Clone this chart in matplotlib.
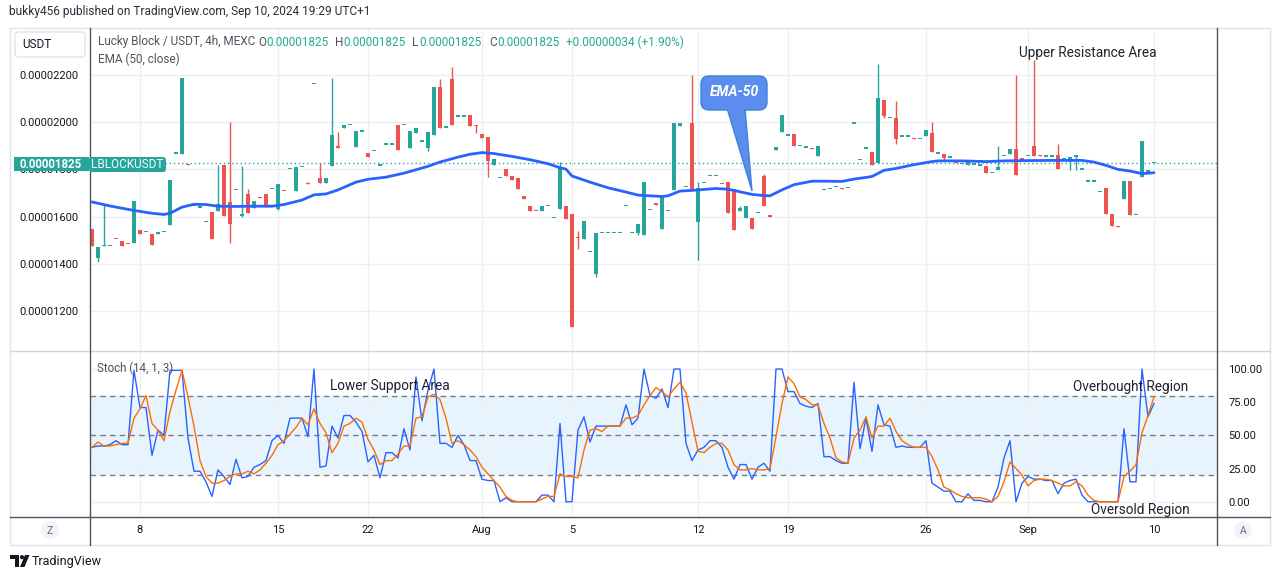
# LBLOCK/USDT 4h chart with EMA-50 and Stoch (14,1,3), TradingView style

import numpy as np
import matplotlib.pyplot as plt
from matplotlib.patches import FancyBboxPatch, Polygon, Circle, Rectangle
from matplotlib.transforms import Affine2D
from matplotlib.lines import Line2D

plt.rcParams['font.family'] = ['Roboto', 'DejaVu Sans']

W, H, DPI = 1281, 579, 100

# 4h candles, prices in units of 1e-8 USDT
opens = [1549, 1423, 1474, 1475, 1506, 1498, 1484, 1487, 1545, 1534,
         1528, 1525, 1535, 1565, 1867, 1865, 1821, 1646, 1638, 1577,
         1621, 1623, 1817, 1660, 1711, 1601, 1694, 1635, 1682, 1694,
         1718, 1631, 1710, 1801, 1708, 1811, 1740, 2160, 1765, 1742,
         1814, 1898, 1976, 1986, 1895, 1960, 1868, 1877, 1816, 1905,
         1905, 1987, 1986, 1891, 1955, 1918, 1891, 1946, 2149, 1977,
         2183, 2024, 2024, 2030, 1986, 1949, 1936, 1818, 1762, 1800,
         1774, 1762, 1689, 1645, 1625, 1623, 1645, 1594, 1631, 1643,
         1609, 1510, 1504, 1450, 1355, 1530, 1530, 1530, 1530, 1645,
         1530, 1530, 1520, 1628, 1658, 1546, 1624, 1712, 1984, 1726,
         1996, 1576, 1743, 1773, 1773, 1740, 1745, 1715, 1623, 1593,
         1596, 1616, 1774, 1602, 1884, 1959, 1943, 1949, 1899, 1892,
         1889, 1857, 1713, 1718, 1725, 1719, 1722, 1994, 1841, 1888,
         1872, 1826, 2094, 2016, 2017, 1939, 1939, 1931, 1930, 1942,
         1953, 1867, 1864, 1850, 1838, 1823, 1818, 1820, 1816, 1816,
         1786, 1797, 1855, 1864, 1885, 1849, 1858, 1901, 1859, 1854,
         1854, 1860, 1845, 1834, 1851, 1799, 1748, 1748, 1705, 1723,
         1613, 1558, 1674, 1749, 1607, 1767, 1791, 1825]
highs = [1549, 1472, 1654, 1475, 1506, 1498, 1484, 1664, 1545, 1536,
         1528, 1536, 1535, 1757, 1867, 2186, 1821, 1646, 1638, 1577,
         1621, 1817, 1817, 2000, 1711, 1813, 1715, 1667, 1682, 1694,
         1718, 1740, 1710, 1801, 1809, 1811, 1748, 2160, 1828, 1762,
         2186, 1957, 1986, 1986, 1962, 1960, 1868, 1877, 1816, 1905,
         1905, 1987, 1986, 1962, 1977, 1918, 1957, 2149, 2183, 1977,
         2234, 2024, 2024, 2030, 1986, 1949, 1936, 1843, 1762, 1800,
         1774, 1762, 1689, 1645, 1625, 1643, 1645, 1594, 1830, 1643,
         1609, 1540, 1582, 1450, 1530, 1530, 1530, 1530, 1530, 1645,
         1530, 1570, 1745, 1628, 1658, 1687, 1624, 1996, 1996, 1726,
         2200, 1745, 1743, 1773, 1773, 1740, 1745, 1715, 1644, 1643,
         1596, 1616, 1779, 1602, 1894, 2030, 1943, 1949, 1899, 1892,
         1889, 1901, 1713, 1718, 1725, 1719, 1722, 1994, 1841, 1888,
         1872, 2247, 2094, 2016, 2089, 1939, 1939, 1931, 1930, 1966,
         2000, 1867, 1864, 1850, 1838, 1823, 1837, 1820, 1816, 1816,
         1786, 1898, 1855, 1885, 2200, 1849, 1858, 2264, 1859, 1854,
         1854, 1906, 1845, 1854, 1862, 1799, 1748, 1748, 1705, 1723,
         1613, 1558, 1749, 1749, 1607, 1919, 1791, 1825]
lows = [1474, 1406, 1474, 1475, 1504, 1477, 1483, 1487, 1525, 1534,
        1478, 1525, 1535, 1565, 1867, 1865, 1819, 1644, 1638, 1577,
        1504, 1623, 1601, 1487, 1711, 1598, 1614, 1635, 1680, 1640,
        1718, 1627, 1708, 1801, 1708, 1811, 1738, 2160, 1742, 1742,
        1814, 1891, 1976, 1986, 1895, 1960, 1852, 1877, 1816, 1905,
        1905, 1882, 1986, 1891, 1955, 1918, 1878, 1946, 1976, 1977,
        1989, 2024, 2024, 1984, 1955, 1933, 1767, 1818, 1762, 1772,
        1757, 1718, 1674, 1623, 1623, 1623, 1645, 1594, 1631, 1589,
        1133, 1461, 1504, 1450, 1346, 1530, 1530, 1530, 1530, 1645,
        1530, 1520, 1520, 1628, 1648, 1546, 1624, 1712, 1984, 1726,
        1718, 1418, 1743, 1773, 1773, 1738, 1614, 1542, 1623, 1593,
        1546, 1616, 1644, 1600, 1884, 1959, 1943, 1899, 1899, 1892,
        1887, 1857, 1713, 1718, 1725, 1717, 1722, 1994, 1841, 1888,
        1820, 1826, 2018, 2016, 1908, 1939, 1939, 1929, 1930, 1942,
        1874, 1867, 1835, 1850, 1827, 1823, 1818, 1820, 1816, 1784,
        1786, 1797, 1855, 1864, 1776, 1834, 1858, 1857, 1857, 1854,
        1854, 1801, 1845, 1797, 1797, 1799, 1748, 1748, 1705, 1610,
        1559, 1556, 1674, 1606, 1607, 1767, 1791, 1825]
closes = [1474, 1472, 1476, 1475, 1504, 1477, 1483, 1664, 1525, 1536,
          1478, 1536, 1535, 1757, 1867, 2186, 1819, 1644, 1638, 1577,
          1504, 1654, 1601, 1567, 1711, 1611, 1614, 1667, 1680, 1640,
          1718, 1740, 1708, 1801, 1809, 1811, 1738, 2160, 1742, 1762,
          1945, 1891, 1986, 1986, 1962, 1960, 1852, 1877, 1816, 1905,
          1905, 1882, 1986, 1962, 1977, 1918, 1957, 2149, 1976, 1977,
          1989, 2024, 2024, 1984, 1984, 1933, 1835, 1843, 1762, 1772,
          1757, 1718, 1674, 1623, 1623, 1643, 1645, 1594, 1807, 1589,
          1133, 1508, 1582, 1450, 1530, 1530, 1530, 1530, 1530, 1645,
          1530, 1570, 1745, 1628, 1648, 1687, 1624, 1996, 1996, 1726,
          1718, 1723, 1743, 1773, 1773, 1738, 1614, 1542, 1635, 1643,
          1546, 1616, 1644, 1600, 1894, 2030, 1943, 1899, 1899, 1892,
          1887, 1901, 1713, 1718, 1725, 1717, 1722, 1994, 1841, 1888,
          1820, 2101, 2027, 2016, 1929, 1939, 1939, 1929, 1930, 1966,
          1874, 1867, 1849, 1850, 1827, 1823, 1837, 1820, 1816, 1784,
          1786, 1809, 1855, 1885, 1776, 1834, 1858, 1857, 1857, 1854,
          1854, 1801, 1845, 1854, 1862, 1799, 1748, 1748, 1705, 1610,
          1559, 1556, 1749, 1606, 1607, 1919, 1791, 1825]
last_price = 1825

# EMA(50) at selected bars
ema_bars = [0, 3, 7, 10, 12, 13, 15, 17, 19, 21, 24, 27, 30, 32, 35, 37, 39,
            41, 44, 46, 49, 52, 56, 58, 61, 63, 65, 67, 70, 73, 76, 78, 79,
            80, 83, 86, 89, 91, 93, 95, 96, 98, 100, 102, 104, 106, 108, 110,
            112, 113, 115, 117, 120, 122, 125, 127, 129, 130, 132, 134, 137,
            140, 141, 145, 149, 152, 155, 160, 165, 167, 169, 171, 173, 175, 177]
ema_vals = [1662, 1645, 1626, 1614, 1609, 1614, 1640, 1652, 1651, 1644, 1643,
            1644, 1644, 1651, 1670, 1692, 1696, 1713, 1746, 1758, 1767, 1784,
            1813, 1831, 1852, 1864, 1871, 1867, 1855, 1841, 1824, 1807, 1801,
            1772, 1746, 1722, 1704, 1691, 1688, 1685, 1688, 1708, 1711, 1715,
            1719, 1716, 1705, 1694, 1689, 1688, 1713, 1735, 1750, 1750, 1749,
            1759, 1766, 1770, 1796, 1804, 1820, 1833, 1836, 1836, 1833, 1836,
            1837, 1838, 1838, 1831, 1817, 1800, 1793, 1782, 1786]

# Stoch (14, 1, 3): %K and %D per bar
stoch_k = [41, 42, 42, 43, 46, 43, 43, 99, 71, 71,
           35, 54, 50, 99, 99, 99, 48, 23, 23, 15,
           4, 24, 19, 13, 32, 18, 19, 26, 28, 31,
           46, 50, 44, 63, 63, 63, 49, 100, 26, 27,
           57, 48, 65, 65, 60, 53, 30, 35, 18, 37,
           37, 33, 55, 39, 94, 61, 84, 100, 44, 44,
           41, 50, 43, 31, 31, 17, 16, 16, 0, 3,
           0, 0, 0, 0, 0, 5, 5, 0, 59, 0,
           0, 54, 64, 45, 57, 57, 57, 57, 57, 73,
           58, 63, 100, 80, 78, 85, 71, 100, 100, 44,
           31, 39, 41, 46, 46, 41, 26, 17, 28, 28,
           17, 26, 29, 23, 100, 100, 83, 83, 74, 72,
           71, 74, 34, 34, 31, 29, 29, 90, 40, 63,
           38, 73, 58, 57, 41, 42, 41, 41, 41, 46,
           14, 11, 8, 8, 0, 0, 6, 1, 1, 0,
           0, 11, 33, 46, 0, 14, 19, 17, 17, 16,
           16, 6, 14, 16, 17, 5, 0, 0, 0, 0,
           0, 0, 55, 15, 15, 100, 64, 74]
stoch_d = [41, 45, 42, 42, 43, 44, 44, 63, 70, 80,
           59, 54, 46, 68, 84, 99, 79, 57, 31, 19,
           14, 14, 16, 19, 21, 21, 23, 21, 24, 29,
           35, 43, 46, 51, 56, 63, 58, 70, 59, 52,
           37, 44, 57, 59, 63, 60, 47, 39, 28, 31,
           31, 36, 42, 42, 63, 64, 79, 81, 77, 63,
           44, 46, 43, 39, 34, 26, 21, 16, 11, 4,
           1, 0, 0, 0, 0, 2, 4, 4, 21, 19,
           19, 18, 39, 54, 55, 53, 57, 57, 57, 63,
           63, 65, 73, 80, 86, 83, 79, 85, 90, 82,
           60, 38, 37, 41, 44, 44, 39, 28, 24, 24,
           25, 24, 24, 25, 49, 74, 94, 89, 79, 77,
           73, 73, 59, 48, 33, 30, 29, 48, 54, 64,
           48, 57, 57, 63, 53, 46, 43, 41, 41, 41,
           34, 24, 11, 9, 6, 4, 3, 3, 3, 2,
           0, 4, 15, 30, 25, 20, 12, 16, 17, 17,
           16, 14, 12, 12, 15, 12, 5, 1, 0, 0,
           0, 0, 19, 23, 28, 52, 65, 79]

date_labels = ['8', '15', '22', 'Aug', '5', '12', '19', '26', 'Sep', '10']
date_bars = [8, 31, 46, 65, 80, 101, 116, 139, 156, 177]
price_ticks = [1200, 1400, 1600, 1800, 2000, 2200]
stoch_ticks = [0, 25, 50, 75, 100]

UP, DOWN = '#26a69a', '#ef5350'
GRID = '#eceff4'
TXT = '#131722'

fig = plt.figure(figsize=(W / DPI, H / DPI), dpi=DPI)
fig.patch.set_facecolor('white')
# pixel coordinates, origin top-left
px = Affine2D().scale(1 / DPI, -1 / DPI).translate(0, H / DPI) + fig.dpi_scale_trans


def frac(x0, y0, x1, y1):
    return [x0 / W, 1 - y1 / H, (x1 - x0) / W, (y1 - y0) / H]


ax = fig.add_axes(frac(90, 28, 1217, 351))
ax2 = fig.add_axes(frac(90, 351, 1217, 517), sharex=ax)

# candles
x = np.arange(len(closes))
o = np.array(opens, float)
hi = np.array(highs, float)
lo = np.array(lows, float)
c = np.array(closes, float)
col = np.where(c >= o, UP, DOWN)
ax.vlines(x, lo, hi, colors=col, lw=1, zorder=3)
ax.bar(x, np.maximum(np.abs(c - o), 5), bottom=np.minimum(o, c), width=0.8,
       color=col, lw=0, zorder=4)
ax.plot(ema_bars, ema_vals, color='#2962ff', lw=2, zorder=5, solid_capstyle='round')
ax.axhline(last_price, color=UP, lw=1, ls=(0, (1, 2)), zorder=2)

ax.set_xlim(-0.33, 187.5)
ax.set_ylim(1030.5, 2399)
ax.set_yticks(price_ticks)
ax.set_yticklabels([f"{p / 1e8:.8f}" for p in price_ticks])
ax.set_xticks(date_bars)
ax.tick_params(axis='y', length=0, pad=8, labelsize=8, labelcolor=TXT)
ax.tick_params(axis='x', length=0, labelbottom=False)
ax.grid(True, color=GRID, lw=1, zorder=0)

# stochastic pane
ax2.axhspan(20, 80, color='#2196f3', alpha=0.1, lw=0, zorder=1)
for lvl in [80, 50, 20]:
    ax2.axhline(lvl, color='#787b86', lw=1, ls=(0, (4, 3)), zorder=2)
ax2.plot(x, stoch_k, color='#2962ff', lw=1, zorder=4)
ax2.plot(x, stoch_d, color='#ff6d00', lw=1, zorder=4)
ax2.set_ylim(-11.5, 113.6)
ax2.yaxis.tick_right()
ax2.set_yticks(stoch_ticks)
ax2.set_yticklabels([f"{v:.2f}" for v in stoch_ticks])
ax2.set_xticks(date_bars)
ax2.set_xticklabels(date_labels)
ax2.tick_params(axis='y', length=0, pad=8, labelsize=8, labelcolor=TXT)
ax2.tick_params(axis='x', length=0, pad=6, labelsize=8, labelcolor=TXT)
ax2.grid(True, color=GRID, lw=1, zorder=0)

for a in (ax, ax2):
    for s in a.spines.values():
        s.set_visible(False)
    a.set_facecolor('white')


def line(xs, ys, color, lw=1.0, z=6):
    fig.add_artist(Line2D(xs, ys, transform=px, color=color, lw=lw, zorder=z))


def text(x0, y0, s, **kw):
    kw.setdefault('va', 'center')
    kw.setdefault('color', TXT)
    kw.setdefault('fontsize', 8.5)
    kw.setdefault('zorder', 9)
    return fig.text(x0, y0, s, transform=px, **kw)


renderer = fig.canvas.get_renderer()

# frame
fig.add_artist(Rectangle((10, 28), 1260, 517, transform=px, fill=False,
                         ec='#e0e3eb', lw=1, zorder=6))
line([10, 1270], [351, 351], '#d1d4dc')
line([10, 1270], [517, 517], '#50535e')
line([90, 90], [28, 545], '#50535e')
line([1217, 1217], [28, 545], '#50535e')

# header
text(9, 12, "bukky456 published on TradingView.com, Sep 10, 2024 19:29 UTC+1",
     fontsize=8.6, color='#2a2e39')
fig.add_artist(FancyBboxPatch((15, 32), 70, 25, boxstyle='round,pad=0,rounding_size=4',
                              transform=px, fc='white', ec='#e0e3eb', lw=1, zorder=6))
text(37, 45, "USDT", ha='center', fontsize=8.5)
GRAY = '#50535e'
TEAL = '#22ab94'
text(98, 42, "Lucky Block / USDT, 4h, MEXC", color=GRAY)
for k, lab in enumerate(["O", "H", "L", "C"]):
    xl = 258 + 77 * k
    t = text(xl, 42, lab, color=GRAY)
    w = t.get_window_extent(renderer).width
    text(xl + w + 0.5, 42, f"{last_price / 1e8:.8f}", color=TEAL)
text(566, 42, "+0.00000034 (+1.90%)", color=TEAL)
text(98, 59, "EMA (50, close)", color=GRAY)

# last price labels
fig.add_artist(Rectangle((14, 157), 75, 14, transform=px, fc=UP, ec='none', zorder=7))
text(51, 164, f"{last_price / 1e8:.8f}", ha='center', color='white',
     fontsize=8.3, weight='bold')
fig.add_artist(FancyBboxPatch((89, 157), 77, 15, boxstyle='round,pad=0,rounding_size=3',
                              transform=px, fc=UP, ec='none', zorder=7))
text(127, 164.5, "LBLOCKUSDT", ha='center', color='white', fontsize=8.5)

# annotations
NOTE = '#1e222d'
text(1088, 53, "Upper Resistance Area", ha='center', fontsize=9.8, color=NOTE)
text(390, 386, "Lower Support Area", ha='center', fontsize=9.8, color=NOTE)
text(1131, 387, "Overbought Region", ha='center', fontsize=9.8, color=NOTE)
text(1140, 510, "Oversold Region", ha='center', fontsize=9.8, color=NOTE)
text(97, 368, "Stoch (14, 1, 3)", fontsize=8.3, color=GRAY)

# EMA-50 callout
CALL = '#5b8def'
fig.add_artist(Polygon([(727, 108), (745, 108), (752, 191)], closed=True, transform=px,
                       fc=CALL, ec='#3f83d6', lw=1, zorder=7))
fig.add_artist(FancyBboxPatch((701, 76), 66, 34, boxstyle='round,pad=0,rounding_size=8',
                              transform=px, fc=CALL, ec='#3f83d6', lw=1, zorder=8))
fig.add_artist(Polygon([(728, 106), (744, 106), (744.3, 112), (728.6, 112)], closed=True,
                       transform=px, fc=CALL, ec='none', zorder=8.5))
text(734, 92, "EMA-50", ha='center', color='white', fontsize=10, style='italic',
     weight='bold', zorder=10)

# bottom corner buttons
for cx, s in [(50, 'Z'), (1243, 'A')]:
    fig.add_artist(Circle((cx, 530), 9, transform=px, fc='#f0f3fa', ec='none', zorder=7))
    text(cx, 530.5, s, ha='center', fontsize=7.5, color='#6a6d78')

# TradingView logo
fig.add_artist(Polygon([(10, 555), (19, 555), (19, 567), (15, 567), (15, 559), (10, 559)],
                       closed=True, transform=px, fc=TXT, ec='none', zorder=7))
fig.add_artist(Circle((22, 557.2), 2.1, transform=px, fc=TXT, ec='none', zorder=7))
fig.add_artist(Polygon([(25, 555), (29.5, 555), (24.5, 567), (20, 567)],
                       closed=True, transform=px, fc=TXT, ec='none', zorder=7))
text(32, 561, "TradingView", fontsize=9, color=TXT)

fig.savefig('out.png', dpi=DPI, facecolor='white')
